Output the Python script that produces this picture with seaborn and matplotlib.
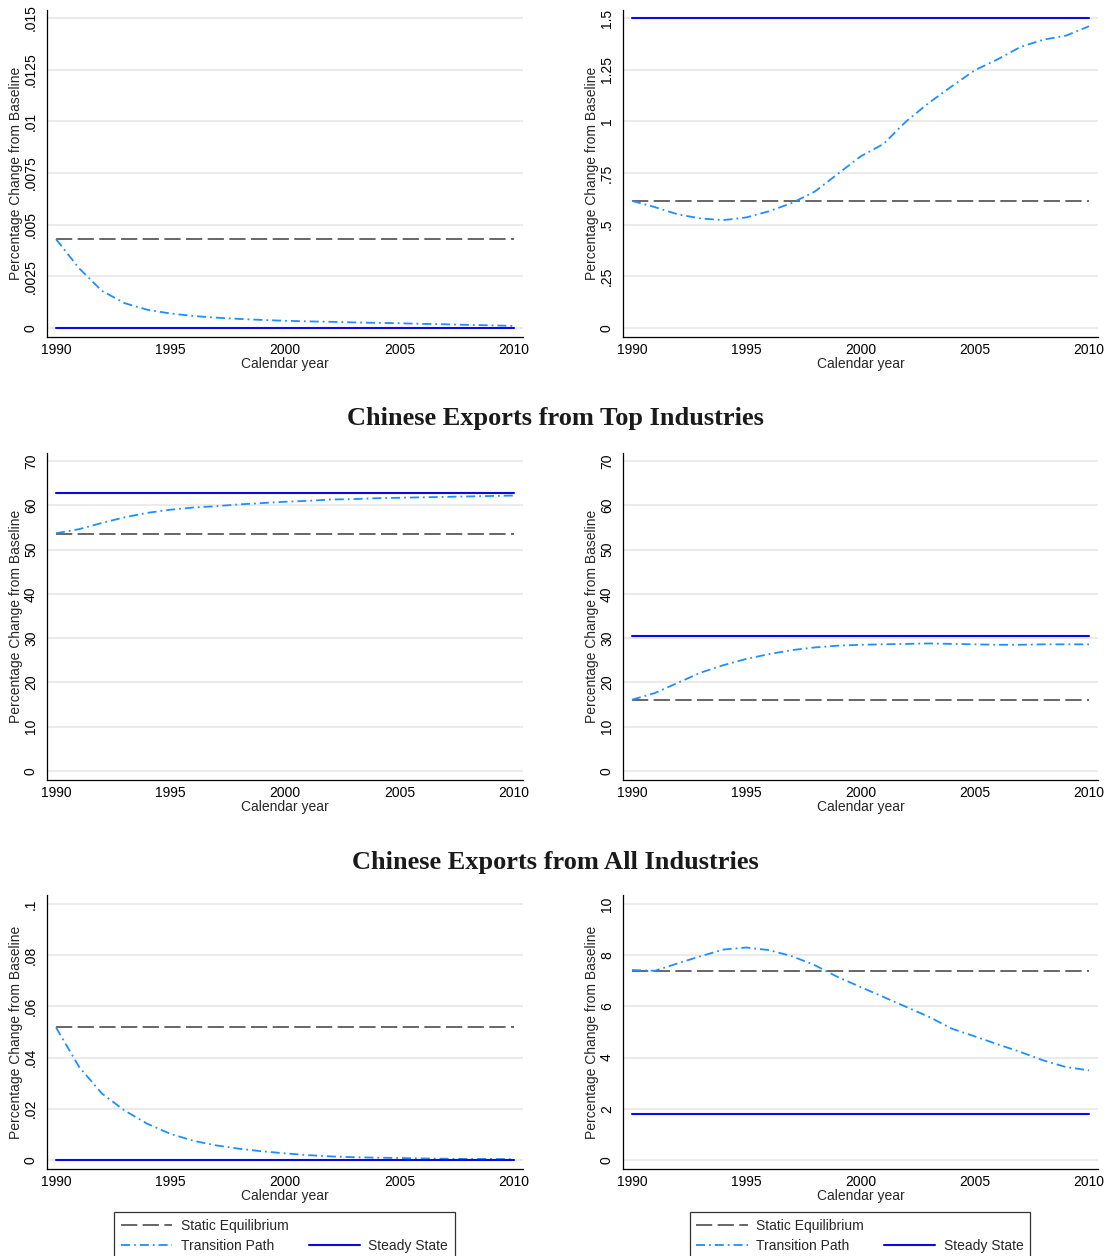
import numpy as np
import pandas as pd
import matplotlib
matplotlib.use("Agg")
import matplotlib.pyplot as plt
from matplotlib.lines import Line2D
import seaborn as sns

# ---- data ----
years = list(range(1990, 2011))

# row 1, left
p1_static = 0.0043
p1_steady = 0.0
p1_transition = [0.0043, 0.0029, 0.0018, 0.0012, 0.00088, 0.0007, 0.00058, 0.0005,
                 0.00044, 0.00039, 0.00035, 0.00032, 0.0003, 0.00027, 0.00025,
                 0.00023, 0.0002, 0.00018, 0.00015, 0.00013, 0.0001]
p1_ticks = [0, 0.0025, 0.005, 0.0075, 0.01, 0.0125, 0.015]
p1_labels = ["0", ".0025", ".005", ".0075", ".01", ".0125", ".015"]

# row 1, right
p2_static = 0.615
p2_steady = 1.5
p2_transition = [0.615, 0.585, 0.55, 0.53, 0.522, 0.535, 0.565, 0.605, 0.66, 0.745,
                 0.83, 0.89, 1.0, 1.09, 1.17, 1.247, 1.30, 1.36, 1.395, 1.415, 1.46]
p2_ticks = [0, 0.25, 0.5, 0.75, 1, 1.25, 1.5]
p2_labels = ["0", ".25", ".5", ".75", "1", "1.25", "1.5"]

# row 2, left
p3_static = 53.6
p3_steady = 62.7
p3_transition = [53.7, 54.6, 56.0, 57.3, 58.3, 59.0, 59.5, 59.8, 60.2, 60.5, 60.8,
                 61.0, 61.3, 61.4, 61.6, 61.7, 61.8, 61.9, 62.0, 62.1, 62.2]
p3_ticks = [0, 10, 20, 30, 40, 50, 60, 70]
p3_labels = ["0", "10", "20", "30", "40", "50", "60", "70"]

# row 2, right
p4_static = 16.0
p4_steady = 30.4
p4_transition = [16.1, 17.6, 19.9, 22.2, 23.9, 25.3, 26.4, 27.3, 27.9, 28.3, 28.5,
                 28.6, 28.7, 28.8, 28.7, 28.6, 28.5, 28.5, 28.6, 28.6, 28.6]
p4_ticks = p3_ticks
p4_labels = p3_labels

# row 3, left
p5_static = 0.0518
p5_steady = 0.0
p5_transition = [0.0518, 0.0365, 0.026, 0.0193, 0.0141, 0.0102, 0.0075, 0.0057,
                 0.0044, 0.0034, 0.0026, 0.0019, 0.0014, 0.0011, 0.0009, 0.0008,
                 0.0006, 0.0005, 0.0004, 0.0004, 0.0003]
p5_ticks = [0, 0.02, 0.04, 0.06, 0.08, 0.1]
p5_labels = ["0", ".02", ".04", ".06", ".08", ".1"]

# row 3, right
p6_static = 7.4
p6_steady = 1.78
p6_transition = [7.42, 7.39, 7.68, 7.96, 8.22, 8.30, 8.2, 7.96, 7.61, 7.15, 6.76,
                 6.37, 5.98, 5.59, 5.13, 4.83, 4.52, 4.22, 3.89, 3.63, 3.5]
p6_ticks = [0, 2, 4, 6, 8, 10]
p6_labels = ["0", "2", "4", "6", "8", "10"]

x_ticks = [1990, 1995, 2000, 2005, 2010]
row_titles = ["Chinese Exports from Top Industries", "Chinese Exports from All Industries"]
legend_labels = ["Static Equilibrium", "Transition Path", "Steady State"]

# ---- style ----
sns.set_style("white")
plt.rcParams["font.family"] = ["Liberation Sans", "DejaVu Sans"]
plt.rcParams["font.size"] = 10

W, H = 1111, 1256
fig = plt.figure(figsize=(W / 100, H / 100), dpi=100)

c_static = "#5a5a5a"
c_trans = "#1e8fff"
c_steady = "#0a0ae6"

# pixel layout: (left, right) columns, (axes top, axes bottom, tick top, tick bottom) rows
cols = [(47, 523), (623, 1098)]
rows = [(10, 337, 18, 328), (453, 780, 461, 771), (895, 1169, 904, 1160)]

panels = [
    (p1_static, p1_transition, p1_steady, p1_ticks, p1_labels),
    (p2_static, p2_transition, p2_steady, p2_ticks, p2_labels),
    (p3_static, p3_transition, p3_steady, p3_ticks, p3_labels),
    (p4_static, p4_transition, p4_steady, p4_ticks, p4_labels),
    (p5_static, p5_transition, p5_steady, p5_ticks, p5_labels),
    (p6_static, p6_transition, p6_steady, p6_ticks, p6_labels),
]

n = len(years)
for i, (static, trans, steady, yt, yl) in enumerate(panels):
    r, c = divmod(i, 2)
    l, rr = cols[c]
    at, ab, tt, tb = rows[r]
    ax = fig.add_axes([l / W, 1 - ab / H, (rr - l) / W, (ab - at) / H])

    df = pd.DataFrame({"year": years, "static": [static] * n,
                       "transition": trans, "steady": [steady] * n})
    sns.lineplot(data=df, x="year", y="static", ax=ax, color=c_static, lw=1.3,
                 linestyle=(0, (9, 3)), label=legend_labels[0], legend=False)
    sns.lineplot(data=df, x="year", y="transition", ax=ax, color=c_trans, lw=1.3,
                 linestyle=(0, (5, 2.2, 1.0, 2.2)), label=legend_labels[1], legend=False)
    sns.lineplot(data=df, x="year", y="steady", ax=ax, color=c_steady, lw=1.5,
                 label=legend_labels[2], legend=False)

    # axis limits so ticks sit where they do in the reference
    lo, hi = yt[0], yt[-1]
    scale = (hi - lo) / (tb - tt)
    ax.set_ylim(lo - (ab - tb) * scale, hi + (tt - at) * scale)
    xscale = 20 / (rr - l - 18)
    ax.set_xlim(1990 - 9 * xscale, 2010 + 9 * xscale)

    ax.set_yticks(yt)
    ax.set_yticklabels(yl, rotation=90, va="center")
    ax.set_xticks(x_ticks)
    ax.set_xticklabels([str(x) for x in x_ticks])
    ax.yaxis.grid(True, color="#e9e9e9", lw=1.3)
    ax.xaxis.grid(False)
    ax.set_axisbelow(True)
    sns.despine(ax=ax)
    for s in ["left", "bottom"]:
        ax.spines[s].set_color("black")
        ax.spines[s].set_linewidth(0.9)
    ax.tick_params(axis="both", direction="out", length=4, width=0.8, color="black",
                   labelsize=10, labelcolor="black")
    ax.tick_params(axis="y", pad=2.5)
    ax.tick_params(axis="x", pad=0.5)
    ax.set_xlabel("Calendar year", fontsize=10, labelpad=0)
    ax.set_ylabel("Percentage Change from Baseline", fontsize=10, labelpad=1)

    if r == 2:
        h = ax.get_lines()
        blank = Line2D([], [], linestyle="none")
        leg = ax.legend([h[0], h[1], blank, h[2]],
                        [legend_labels[0], legend_labels[1], "", legend_labels[2]],
                        ncol=2, loc="upper center",
                        bbox_to_anchor=(((117 + 452) / 2 if c == 0 else (693 + 1027) / 2) / W,
                                        1 - 1212 / H),
                        bbox_transform=fig.transFigure, frameon=True, fancybox=False,
                        edgecolor="black", fontsize=10, handlelength=3.7,
                        handletextpad=0.6, columnspacing=1.45, labelspacing=0.45,
                        borderpad=0.5, borderaxespad=0)
        leg.get_frame().set_linewidth(0.9)

for t, y in zip(row_titles, [419, 862]):
    fig.text(555.5 / W, 1 - y / H, t, ha="center", va="center",
             family=["Liberation Serif", "DejaVu Serif"], weight="bold",
             fontsize=19, color="#1a1a1a")

fig.savefig("out.png", dpi=100)
